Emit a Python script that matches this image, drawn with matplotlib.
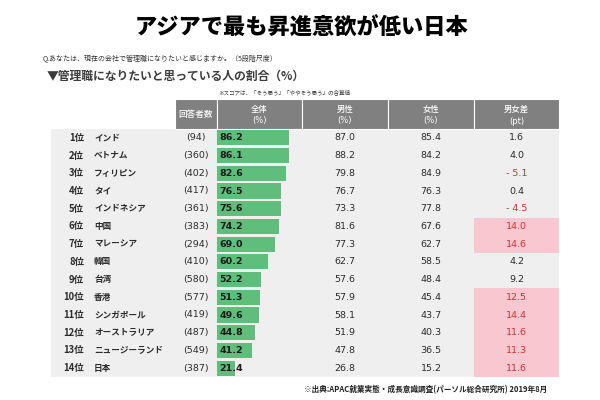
import matplotlib.pyplot as plt
from matplotlib.patches import Rectangle

plt.rcParams['font.family'] = ['Noto Sans CJK JP', 'DejaVu Sans']

# データ
ranks = ["1位", "2位", "3位", "4位", "5位", "6位", "7位", "8位", "9位", "10位", "11位", "12位", "13位", "14位"]
countries = ["インド", "ベトナム", "フィリピン", "タイ", "インドネシア", "中国", "マレーシア",
             "韓国", "台湾", "香港", "シンガポール", "オーストラリア", "ニュージーランド", "日本"]
respondents = [94, 360, 402, 417, 361, 383, 294, 410, 580, 577, 419, 487, 549, 387]
total = [86.2, 86.1, 82.6, 76.5, 75.6, 74.2, 69.0, 60.2, 52.2, 51.3, 49.6, 44.8, 41.2, 21.4]
male = [87.0, 88.2, 79.8, 76.7, 73.3, 81.6, 77.3, 62.7, 57.6, 57.9, 58.1, 51.9, 47.8, 26.8]
female = [85.4, 84.2, 84.9, 76.3, 77.8, 67.6, 62.7, 58.5, 48.4, 45.4, 43.7, 40.3, 36.5, 15.2]
gap = [1.6, 4.0, -5.1, 0.4, -4.5, 14.0, 14.6, 4.2, 9.2, 12.5, 14.4, 11.6, 11.3, 11.6]
headers = ["回答者数", "全体", "男性", "女性", "男女差"]
units = ["", "(%)", "(%)", "(%)", "(pt)"]

W, H = 600, 400
fig = plt.figure(figsize=(6, 4), dpi=100)
ax = fig.add_axes([0, 0, 1, 1])
ax.set_xlim(0, W)
ax.set_ylim(H, 0)
ax.axis("off")

# レイアウト（ピクセル）
col_edges = [175, 217, 302, 388, 474, 559]
body_left, body_top, body_bottom = 51, 129, 377
head_top = 99
n = len(countries)
row_h = (body_bottom - body_top) / n
grey = "#808080"
pink = "#f9c7cf"
red = "#cc3333"
txt = "#2b2b2b"

# タイトル類
ax.text(302, 28, "アジアで最も昇進意欲が低い日本", ha="center", va="center",
        fontsize=16, fontweight="heavy", color="black")
ax.text(43, 59, "Q.あなたは、現在の会社で管理職になりたいと感じますか。（5段階尺度）",
        ha="left", va="center", fontsize=5.0, color="#333333")
ax.text(47, 76, "▼管理職になりたいと思っている人の割合（%）", ha="left", va="center",
        fontsize=8.5, color="#3c3c3c", fontweight="bold")
ax.text(218, 92, "※スコアは、「そう思う」「ややそう思う」の合算値", ha="left", va="center",
        fontsize=4.0, color="#333333")
ax.text(547, 390, "※出典:APAC就業実態・成長意識調査(パーソル総合研究所) 2019年8月",
        ha="right", va="center", fontsize=5.5, color="#222222", fontweight="bold")

# 本体の背景
ax.add_patch(Rectangle((body_left, body_top), col_edges[-1] - body_left, body_bottom - body_top,
                       facecolor="#efefef", edgecolor="none", zorder=0))

# ヘッダー
for i, h in enumerate(headers):
    x0, x1 = col_edges[i], col_edges[i + 1]
    xc = (x0 + x1) / 2
    ax.add_patch(Rectangle((x0, head_top), x1 - x0, body_top - head_top,
                           facecolor=grey, edgecolor="white", linewidth=0.8, zorder=1))
    if units[i]:
        ax.text(xc, 109.5, h, ha="center", va="center", fontsize=6, color="white",
                fontweight="medium", zorder=2)
        ax.text(xc, 121, units[i], ha="center", va="center", fontsize=6, color="white",
                family="DejaVu Sans", zorder=2)
    else:
        ax.text(xc, 114.5, h, ha="center", va="center", fontsize=6.2, color="white",
                fontweight="medium", zorder=2)

# 行
for i in range(n):
    yc = body_top + (i + 0.5) * row_h
    ax.text(84, yc, ranks[i], ha="right", va="center", fontsize=6.8, fontweight="bold", color=txt)
    ax.text(94, yc, countries[i], ha="left", va="center", fontsize=6.2, fontweight="bold", color=txt)
    ax.text((col_edges[0] + col_edges[1]) / 2, yc, f"({respondents[i]})", ha="center", va="center",
            fontsize=6.8, color=txt, family="DejaVu Sans")
    ax.text((col_edges[2] + col_edges[3]) / 2, yc, f"{male[i]:.1f}", ha="center", va="center",
            fontsize=6.8, color=txt, family="DejaVu Sans")
    ax.text((col_edges[3] + col_edges[4]) / 2, yc, f"{female[i]:.1f}", ha="center", va="center",
            fontsize=6.8, color=txt, family="DejaVu Sans")
    g = gap[i]
    highlight = g >= 10
    if highlight:
        ax.add_patch(Rectangle((col_edges[4], body_top + i * row_h), col_edges[5] - col_edges[4], row_h,
                               facecolor=pink, edgecolor="none", zorder=0.5))
    label = f"- {abs(g):.1f}" if g < 0 else f"{g:.1f}"
    ax.text((col_edges[4] + col_edges[5]) / 2, yc, label, ha="center", va="center",
            fontsize=6.8, color=red if (g < 0 or highlight) else txt, family="DejaVu Sans")

# 全体(%) のバー
bx0, bx1 = col_edges[1], col_edges[2]
axb = fig.add_axes([bx0 / W, 1 - body_bottom / H, (bx1 - bx0) / W, (body_bottom - body_top) / H])
axb.set_xlim(0, (bx1 - bx0) / 0.84)
axb.set_ylim(n, 0)
axb.axis("off")
axb.patch.set_alpha(0)
ypos = [i + 0.5 for i in range(n)]
axb.barh(ypos, total, height=0.86, left=0, color="#5fbe7c", edgecolor="none")
for y, v in zip(ypos, total):
    axb.text(2.5, y, f"{v:.1f}", ha="left", va="center", fontsize=6.8, fontweight="bold",
             color="#1a1a1a", family="DejaVu Sans")

fig.savefig("out.png", dpi=100, facecolor="white")
